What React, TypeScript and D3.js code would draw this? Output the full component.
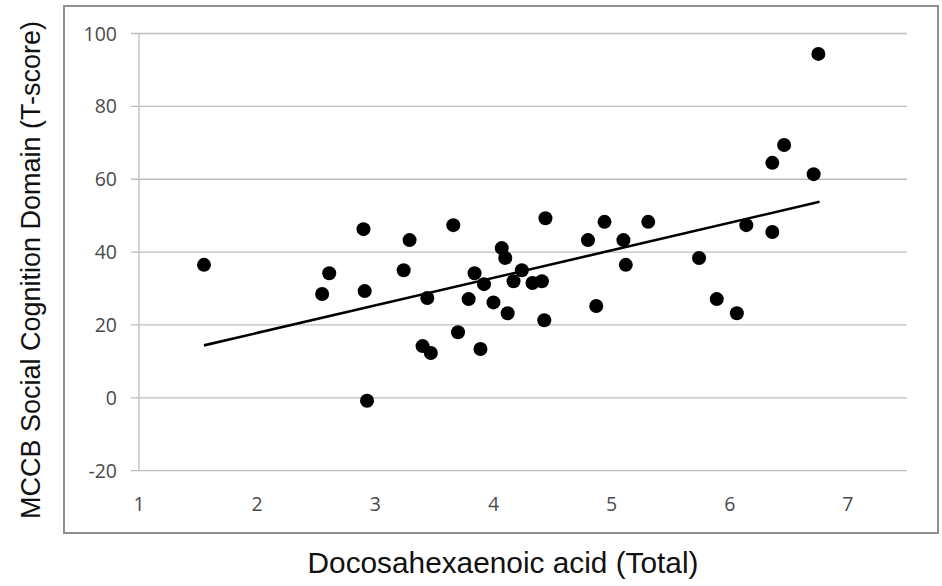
import { useRef, useEffect } from 'react'
import * as d3 from 'd3'

// DHA total (x) vs MCCB social cognition T-score (y)
const dhaValues = [
  1.55, 2.55, 2.61, 2.9, 2.91, 2.93, 3.24, 3.29, 3.4, 3.44, 3.47, 3.66, 3.7, 3.79,
  3.84, 3.89, 3.92, 4.0, 4.07, 4.1, 4.12, 4.17, 4.24, 4.33, 4.41, 4.43, 4.44, 4.8,
  4.87, 4.94, 5.1, 5.12, 5.31, 5.74, 5.89, 6.06, 6.14, 6.36, 6.36, 6.46, 6.71, 6.75,
]
const socialScores = [
  36.5, 28.5, 34.2, 46.3, 29.3, -0.8, 35, 43.3, 14.2, 27.4, 12.3, 47.4, 18, 27.1,
  34.2, 13.4, 31.2, 26.2, 41.1, 38.4, 23.2, 32, 35, 31.5, 32, 21.3, 49.3, 43.3,
  25.2, 48.3, 43.3, 36.5, 48.3, 38.4, 27.1, 23.2, 47.4, 45.5, 64.5, 69.4, 61.4, 94.4,
]
// linear trend line end points
const trendX = [1.55, 6.76]
const trendY = [14.4, 53.8]

const xTicks = [1, 2, 3, 4, 5, 6, 7]
const yTicks = [-20, 0, 20, 40, 60, 80, 100]

const W = 942
const H = 586

export default function App() {
  const svgRef = useRef<SVGSVGElement>(null)

  useEffect(() => {
    const svg = d3.select(svgRef.current)
    svg.selectAll('*').remove()

    const left = 139
    const right = 907
    const top = 33.5
    const bottom = 470.7

    const x = d3.scaleLinear().domain([1, 7.5]).range([left, right])
    const y = d3.scaleLinear().domain([-20, 100]).range([bottom, top])

    // outer frame
    svg.append('rect')
      .attr('x', 64)
      .attr('y', 6)
      .attr('width', 874)
      .attr('height', 527)
      .attr('fill', '#fff')
      .attr('stroke', '#8f8f8f')
      .attr('stroke-width', 2)

    // gridlines + y ticks
    yTicks.forEach((t) => {
      svg.append('line')
        .attr('x1', left - 8)
        .attr('x2', right)
        .attr('y1', y(t))
        .attr('y2', y(t))
        .attr('stroke', '#bdbdbd')
        .attr('stroke-width', 1.3)
      svg.append('text')
        .attr('x', 117)
        .attr('y', y(t))
        .attr('dy', '0.36em')
        .attr('text-anchor', 'end')
        .attr('fill', '#4a4a4a')
        .attr('font-size', '19.5px')
        .attr('font-family', "'Open Sans', sans-serif")
        .text(t)
    })

    // y axis line
    svg.append('line')
      .attr('x1', left)
      .attr('x2', left)
      .attr('y1', top)
      .attr('y2', bottom)
      .attr('stroke', '#bdbdbd')
      .attr('stroke-width', 1.3)

    xTicks.forEach((t) => {
      svg.append('text')
        .attr('x', x(t))
        .attr('y', 504)
        .attr('dy', '0.36em')
        .attr('text-anchor', 'middle')
        .attr('fill', '#4a4a4a')
        .attr('font-size', '19.5px')
        .attr('font-family', "'Open Sans', sans-serif")
        .text(t)
    })

    // points
    svg.append('g')
      .selectAll('circle')
      .data(dhaValues.map((d, i) => [d, socialScores[i]]))
      .join('circle')
      .attr('cx', (d) => x(d[0]))
      .attr('cy', (d) => y(d[1]))
      .attr('r', 7)
      .attr('fill', '#000')

    // trend line
    const line = d3.line<number>()
      .x((d) => x(d))
      .y((_, i) => y(trendY[i]))
    svg.append('path')
      .attr('d', line(trendX))
      .attr('fill', 'none')
      .attr('stroke', '#000')
      .attr('stroke-width', 2.6)

    // axis titles
    svg.append('text')
      .attr('transform', 'translate(40,270) rotate(-90)')
      .attr('text-anchor', 'middle')
      .attr('fill', '#111')
      .attr('font-size', '27px')
      .attr('font-family', "'Liberation Sans', Arial, sans-serif")
      .text('MCCB Social Cognition Domain (T-score)')

    svg.append('text')
      .attr('x', 503)
      .attr('y', 573)
      .attr('text-anchor', 'middle')
      .attr('fill', '#111')
      .attr('font-size', '29.8px')
      .attr('font-family', "'Liberation Sans', Arial, sans-serif")
      .text('Docosahexaenoic acid (Total)')
  }, [])

  return (
    <div style={{ position: 'absolute', left: 0, top: 0, background: '#fff' }}>
      <svg ref={svgRef} width={W} height={H} style={{ display: 'block' }} />
    </div>
  )
}
